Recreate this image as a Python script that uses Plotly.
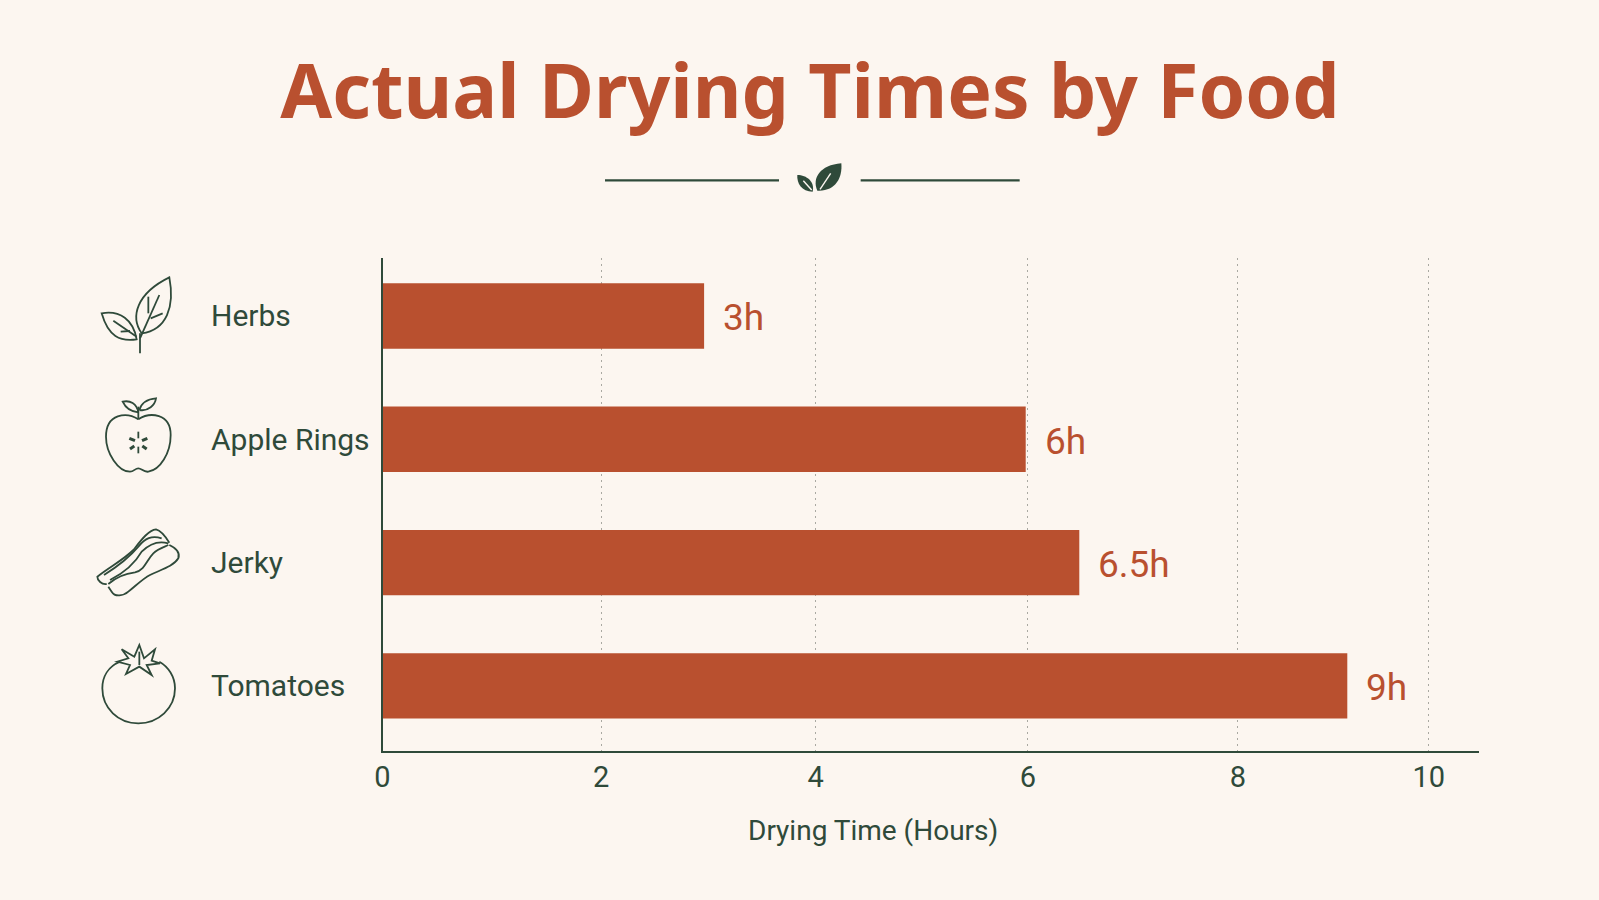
import re
import plotly.graph_objects as go

# Chart data
foods = ["Herbs", "Apple Rings", "Jerky", "Tomatoes"]
hours = [3, 6, 6.5, 9]
value_labels = ["3h", "6h", "6.5h", "9h"]
tick_positions = [0, 2.04, 4.04, 6.02, 7.98, 9.76]
tick_labels = ["0", "2", "4", "6", "8", "10"]

BG = "#fcf6f0"
RUST = "#b9502f"
GREEN = "#2f4a3a"
LABEL_FONT = "Roboto"
TITLE_FONT = "Noto Sans"

W, H = 1599, 900


def place(path, ox, oy, k=1 / 3):
    """Scale a path drawn on a 3x grid and move it to page pixels."""
    return re.sub(
        r"(-?[\d.]+),(-?[\d.]+)",
        lambda m: f"{ox + float(m[1]) * k:.2f},{oy + float(m[2]) * k:.2f}",
        path,
    )


def stroke(path, ox, oy, width=1.8):
    return dict(type="path", xref="x2", yref="y2", path=place(path, ox, oy),
                line=dict(color=GREEN, width=width), fillcolor="rgba(0,0,0,0)")


def solid(path, ox, oy):
    return dict(type="path", xref="x2", yref="y2", path=place(path, ox, oy),
                line=dict(width=0), fillcolor=GREEN)


herb_icon = [
    "M185,250 C150,200 170,130 268,82 C285,170 260,240 185,250",
    "M180,265 L238,135",
    "M205,190 L205,140",
    "M212,205 L248,190",
    "M65,190 C120,180 160,210 170,268 C120,275 85,260 65,190 Z",
    "M100,212 L170,260",
    "M122,245 L150,243",
    "M180,310 L180,250",
]
apple_icon = [
    "M175,508 C140,485 78,490 78,560 C78,610 115,665 150,665 C162,665 165,655 175,655 "
    "C185,655 190,667 205,665 C240,660 272,610 272,555 C272,490 210,485 175,508",
    "M175,508 L175,470",
    "M175,487 C150,485 135,470 128,455 C150,450 170,460 175,487",
    "M178,480 C185,455 205,447 228,445 C225,465 205,485 178,480",
    "M175,545 L175,565",
    "M175,590 L175,610",
]
apple_seeds = [
    "M148,565 L165,572",
    "M202,565 L186,572",
    "M150,597 L163,588",
    "M200,597 L187,588",
]
jerky_icon = [
    "M80,222 C65,225 52,210 52,200 C90,170 130,150 160,120 C180,95 205,60 228,58 "
    "C245,62 260,85 268,98",
    "M268,105 C290,115 300,130 295,145 C280,170 240,180 210,195 C190,205 170,225 145,245 "
    "C130,258 105,262 95,245 L85,230",
    "M72,195 C120,165 150,140 175,110 C195,85 215,75 245,85",
    "M90,210 C130,190 165,160 185,125 C205,105 230,90 265,100",
    "M85,222 C110,200 140,190 165,187 C195,180 200,150 220,130 C235,115 255,110 265,105",
]
tomato_icon = [
    "M120,455 C85,470 67,500 67,535 C67,595 115,640 175,640 C235,640 285,595 285,535 "
    "C285,500 265,470 238,455",
    "M178,405 L192,445 L225,418 L215,452 L240,460 L200,465 L215,495 L178,470 L138,492 "
    "L150,465 L112,455 L145,445 L125,418 L163,440 Z",
    "M178,425 L178,465",
]

shapes = []
for p in herb_icon + apple_icon:
    shapes.append(stroke(p, 80, 250))
for p in apple_seeds:
    shapes.append(stroke(p, 80, 250, width=3))
for p in jerky_icon + tomato_icon:
    shapes.append(stroke(p, 80, 510))

# Divider under the title: two rules with a small leaf between them
shapes += [
    stroke("M45,91 L567,91", 590, 150, width=2.2),
    stroke("M812,91 L1289,91", 590, 150, width=2.2),
    solid("M682,122 C665,85 690,45 754,40 C758,85 735,125 682,122 Z", 590, 150),
    solid("M668,125 C635,125 620,100 622,75 C650,75 675,95 668,125 Z", 590, 150),
]
for vein in ["M690,118 L722,70", "M640,92 L665,120"]:
    s = stroke(vein, 590, 150, width=1.4)
    s["line"]["color"] = BG
    shapes.append(s)

fig = go.Figure()
fig.add_trace(go.Bar(
    y=foods, x=hours, orientation="h",
    marker=dict(color=RUST, line=dict(width=0)),
    width=0.53, hoverinfo="skip", showlegend=False,
))
# Empty trace that keeps the page-pixel axes alive for icons and captions
fig.add_trace(go.Scatter(x=[None], y=[None], xaxis="x2", yaxis="y2",
                         hoverinfo="skip", showlegend=False))

annotations = []
for food in foods:
    annotations.append(dict(
        text=food, xref="x2", yref="y", x=209, y=food, xanchor="left", yanchor="middle",
        showarrow=False, font=dict(family=LABEL_FONT, size=30, color=GREEN),
    ))
for food, h, lab in zip(foods, hours, value_labels):
    annotations.append(dict(
        text=lab, xref="x", yref="y", x=h, y=food, xanchor="left", yanchor="middle",
        xshift=17, yshift=-2, showarrow=False,
        font=dict(family=LABEL_FONT, size=37, color=RUST),
    ))
annotations.append(dict(
    text="Drying Time (Hours)", xref="x2", yref="y2", x=873, y=830,
    xanchor="center", yanchor="middle", showarrow=False,
    font=dict(family=LABEL_FONT, size=28, color=GREEN),
))

fig.update_layout(
    width=W, height=H,
    margin=dict(l=0, r=0, t=0, b=0, autoexpand=False),
    paper_bgcolor=BG, plot_bgcolor="rgba(0,0,0,0)",
    title=dict(
        text="<b>Actual Drying Times by Food</b>",
        x=810 / W, xanchor="center", xref="paper",
        y=1 - 92 / H, yanchor="middle", yref="container",
        font=dict(family=TITLE_FONT, size=75, color=RUST),
    ),
    xaxis=dict(
        domain=[382.5 / W, 1479 / W], range=[0, (1479 - 382.5) / 107.2],
        tickmode="array", tickvals=tick_positions, ticktext=tick_labels,
        ticks="", showgrid=True, gridcolor="#aaa9a2", gridwidth=1, griddash="2px,4px",
        zeroline=False, showline=True, linecolor=GREEN, linewidth=2,
        tickfont=dict(family=LABEL_FONT, size=29, color=GREEN),
        ticklabelstandoff=0, fixedrange=True,
    ),
    yaxis=dict(
        domain=[(H - 750.5) / H, (H - 258) / H],
        type="category", categoryorder="array", categoryarray=foods,
        range=[3.524, -0.47], showticklabels=False, ticks="", showgrid=False,
        zeroline=False, showline=True, linecolor=GREEN, linewidth=2, fixedrange=True,
    ),
    xaxis2=dict(domain=[0, 1], range=[0, W], visible=False, anchor="y2", fixedrange=True),
    yaxis2=dict(domain=[0, 1], range=[H, 0], visible=False, anchor="x2", fixedrange=True),
    bargap=0.47,
    shapes=shapes,
    annotations=annotations,
)

fig.write_html("out.html", config=dict(displayModeBar=False))
